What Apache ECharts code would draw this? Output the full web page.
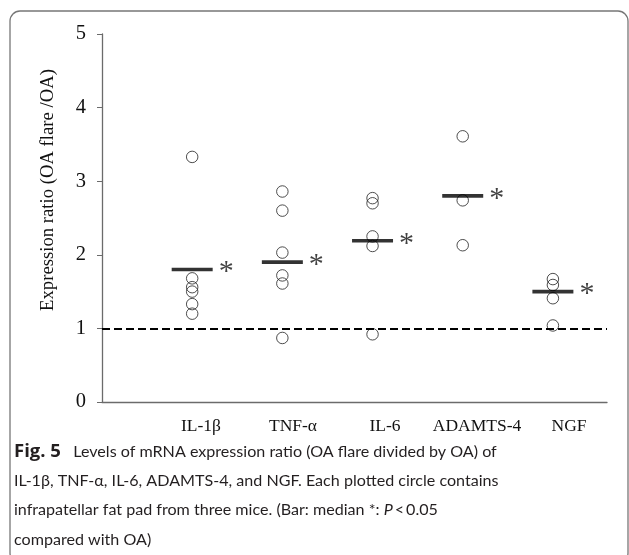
<!DOCTYPE html>
<html style="height: 100%">
  <head>
    <meta charset="utf-8" />
    <title>Fig. 5</title>
    <script src="https://cdn.jsdelivr.net/npm/echarts@6/dist/echarts.min.js"></script>
  </head>

  <body style="height: 100%; margin: 0; background: #fff">
    <div id="main" style="width: 629px; height: 555px"></div>
    <script type="text/javascript">
      // categories and values
      var categories = ["IL-1β", "TNF-α", "IL-6", "ADAMTS-4", "NGF"];
      var il1b = [3.33, 1.68, 1.56, 1.5, 1.33, 1.2];
      var tnfa = [2.86, 2.6, 2.03, 1.72, 1.61, 0.87];
      var il6 = [2.77, 2.7, 2.25, 2.12, 0.92];
      var adamts4 = [3.61, 2.74, 2.13];
      var ngf = [1.67, 1.59, 1.41, 1.04];
      var medians = [1.8, 1.9, 2.19, 2.8, 1.5];
      var baseline = 1;
      var yTicks = [0, 1, 2, 3, 4, 5];

      var groups = [il1b, tnfa, il6, adamts4, ngf];
      var points = [];
      groups.forEach(function (vals, i) {
        vals.forEach(function (v) {
          points.push([i + 1, v]);
        });
      });
      var medianPts = medians.map(function (v, i) {
        return [i + 1, v];
      });

      var serif = "Liberation Serif";
      var capFont = "Lato";
      var capSize = 16.1;
      var capColor = "#231f20";
      var myChart = echarts.init(document.getElementById("main"));

      function capLine(y, text, rich) {
        return {
          type: "text",
          x: 14,
          y: y,
          style: {
            text: text,
            fontFamily: capFont,
            fontSize: capSize,
            fill: capColor,
            verticalAlign: "middle",
            rich: rich || {},
          },
        };
      }

      var option = {
        animation: false,
        grid: { left: 102, top: 34, right: 22, bottom: 153 },
        xAxis: [
          {
            type: "value",
            min: 0,
            max: 5.6,
            axisLine: { show: true, lineStyle: { color: "#6b6b6b", width: 1.3 } },
            axisTick: { show: false },
            axisLabel: { show: false },
            splitLine: { show: false },
          },
          {
            // label-only axis, the labels sit a little right of the points
            type: "value",
            position: "bottom",
            min: -0.076,
            max: 5.413,
            axisLine: { show: false },
            axisTick: { show: false },
            splitLine: { show: false },
            axisLabel: {
              customValues: [1, 2, 3, 4, 5],
              margin: 15,
              fontFamily: serif,
              fontSize: 17.5,
              color: "#111",
              formatter: function (v) {
                return categories[Math.round(v) - 1] || "";
              },
            },
          },
        ],
        yAxis: {
          type: "value",
          min: yTicks[0],
          max: yTicks[yTicks.length - 1],
          interval: 1,
          axisLine: { show: true, lineStyle: { color: "#6b6b6b", width: 1.3 } },
          axisTick: { show: true, length: 5, lineStyle: { color: "#6b6b6b" } },
          splitLine: { show: false },
          axisLabel: { margin: 16, fontFamily: serif, fontSize: 20.5, color: "#111" },
        },
        graphic: [
          {
            type: "rect",
            shape: { x: 10, y: 11, width: 618, height: 552, r: 10 },
            style: { fill: "none", stroke: "#777", lineWidth: 1.3 },
            silent: true,
          },
          {
            type: "text",
            x: 48,
            y: 190,
            rotation: Math.PI / 2,
            style: {
              text: "Expression ratio (OA flare /OA)",
              fontFamily: serif,
              fontSize: 18.7,
              fill: "#111",
              align: "center",
              verticalAlign: "middle",
            },
          },
          capLine(452, "{b|Fig. 5}   Levels of mRNA expression ratio (OA flare divided by OA) of", {
            b: { fontWeight: "bold", fontFamily: "Open Sans", fontSize: 18.5, fill: capColor },
          }),
          capLine(481, "IL-1β, TNF-α, IL-6, ADAMTS-4, and NGF. Each plotted circle contains"),
          capLine(510, "infrapatellar fat pad from three mice. (Bar: median *: {i|P}\u2009<\u20090.05", {
            i: { fontStyle: "italic", fontFamily: capFont, fontSize: capSize, fill: capColor },
          }),
          capLine(540, "compared with OA)"),
        ],
        series: [
          {
            name: "samples",
            type: "scatter",
            xAxisIndex: 0,
            data: points,
            symbol: "circle",
            symbolSize: 11.5,
            itemStyle: { color: "rgba(0,0,0,0)", borderColor: "#222", borderWidth: 1 },
            markLine: {
              silent: true,
              symbol: "none",
              label: { show: false },
              lineStyle: { color: "#000", type: [8, 4], width: 2.2 },
              data: [{ yAxis: baseline }],
            },
            z: 2,
          },
          {
            name: "median",
            type: "scatter",
            xAxisIndex: 0,
            data: medianPts,
            symbol: "rect",
            symbolSize: [41, 3.6],
            itemStyle: { color: "#000" },
            label: {
              show: true,
              position: "right",
              distance: 6,
              formatter: "*",
              fontFamily: serif,
              fontSize: 30,
              color: "#111",
              offset: [0, 3],
            },
            z: 3,
          },
        ],
      };

      myChart.setOption(option);
    </script>
  </body>
</html>
